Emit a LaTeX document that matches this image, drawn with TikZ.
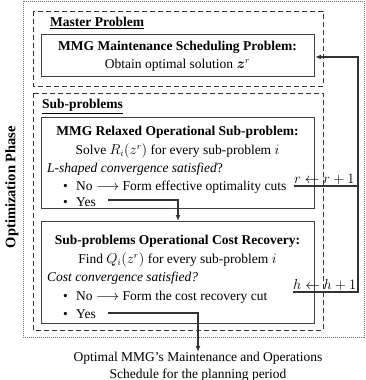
\documentclass[tikz,border=0pt]{standalone}
\usepackage{amsmath,bm}
\usepackage{fontspec}
\setmainfont{Liberation Serif}
\usetikzlibrary{arrows.meta}
\begin{document}
\begin{tikzpicture}[x=1pt,y=-1pt,
  txt/.style={font=\fontsize{13.5}{16}\selectfont, inner sep=0pt},
  btxt/.style={font=\fontsize{13.5}{16}\selectfont\bfseries, inner sep=0pt},
  box/.style={draw=black!75, line width=1.2pt, inner sep=0pt},
  dbox/.style={draw=black!80, line width=0.8pt, dash pattern=on 5pt off 3pt},
  obox/.style={draw=black!55, line width=0.8pt, dash pattern=on 1pt off 1pt},
  conn/.style={draw=black!80, line width=1.2pt},
  arr/.style={conn, -{Latex[length=6pt,width=5pt]}}]
\useasboundingbox (0,0) rectangle (366,380);
% containers
\draw[obox] (23,1) rectangle (364,337);
\draw[dbox] (33,11) rectangle (323,86);
\draw[dbox] (33,93) rectangle (323,330);
\node[btxt, rotate=90] (phase) at (12,187) {\fontsize{14.5}{16}\selectfont Optimization Phase};
% master
\node[btxt, anchor=base west] (mp) at (50,26.5) {\underline{Master Problem}};
\node[box, anchor=north west, minimum width=273pt, minimum height=42pt] (mbox) at (41,34) {};
\node[btxt, anchor=base] (m1) at (177.5,50.5) {MMG Maintenance Scheduling Problem:};
\node[txt, anchor=base] (m2) at (177.5,68.5) {Obtain optimal solution $\bm{z}^r$};
% sub-problems
\node[btxt, anchor=base west] (sp) at (42,108.5) {\underline{Sub-problems}};
\node[box, anchor=north west, minimum width=273pt, minimum height=91pt] (rbox) at (41,117) {};
\node[btxt, anchor=base] (r1) at (177.5,135.5) {MMG Relaxed Operational Sub-problem:};
\node[txt, anchor=base] (r2) at (177.5,154.5) {Solve $R_i(z^r)$ for every sub-problem $i$};
\node[txt, anchor=base west] (r3) at (47,172.5) {\textit{L-shaped convergence satisfied}?};
\node[txt, anchor=base west] (rb1) at (63,190.5) {•};
\node[txt, anchor=base west] (r4) at (76,190.5) {No $\longrightarrow$ Form effective optimality cuts};
\node[txt, anchor=base west] (rb2) at (63,206) {•};
\node[txt, anchor=base west] (r5) at (76,206) {Yes};
\node[box, anchor=north west, minimum width=273pt, minimum height=102pt] (cbox) at (41,221) {};
\node[btxt, anchor=base] (c1) at (177.5,244.5) {Sub-problems Operational Cost Recovery:};
\node[txt, anchor=base] (c2) at (177.5,263.5) {Find $Q_i(z^r)$ for every sub-problem $i$};
\node[txt, anchor=base west] (c3) at (47,281.5) {\textit{Cost convergence satisfied?}};
\node[txt, anchor=base west] (cb1) at (63,300.5) {•};
\node[txt, anchor=base west] (c4) at (76,300.5) {No $\longrightarrow$ Form the cost recovery cut};
\node[txt, anchor=base west] (cb2) at (63,318.5) {•};
\node[txt, anchor=base west] (c5) at (76,318.5) {Yes};
% output
\node[txt, anchor=base] (o1) at (198,361.5) {Optimal MMG’s Maintenance and Operations};
\node[txt, anchor=base] (o2) at (198,378) {Schedule for the planning period};
% feedback labels
\node[txt, anchor=base west] (rl) at (294,183) {$r \leftarrow r+1$};
\node[txt, anchor=base west] (hl) at (293,289.5) {$h \leftarrow h+1$};
\coordinate (rs) at (294,186);
\coordinate (rt) at (358,186);
\coordinate (hs) at (293,292);
\coordinate (ht) at (358,292);
\coordinate (mt) at (358,57);
\coordinate (y1) at (108,200);
\coordinate (y1c) at (178,200);
\coordinate (y2) at (108,313);
\coordinate (y2c) at (198,313);
% connectors
\draw[conn] (rs) -- (rt);
\draw[arr] (hs) -- (ht) -- (mt) -- (mbox.east |- mt);
\draw[arr] (y1) -- (y1c) -- (y1c |- cbox.north);
\draw[arr] (y2) -- (y2c) -- (y2c |- o1.north);
\end{tikzpicture}
\end{document}
